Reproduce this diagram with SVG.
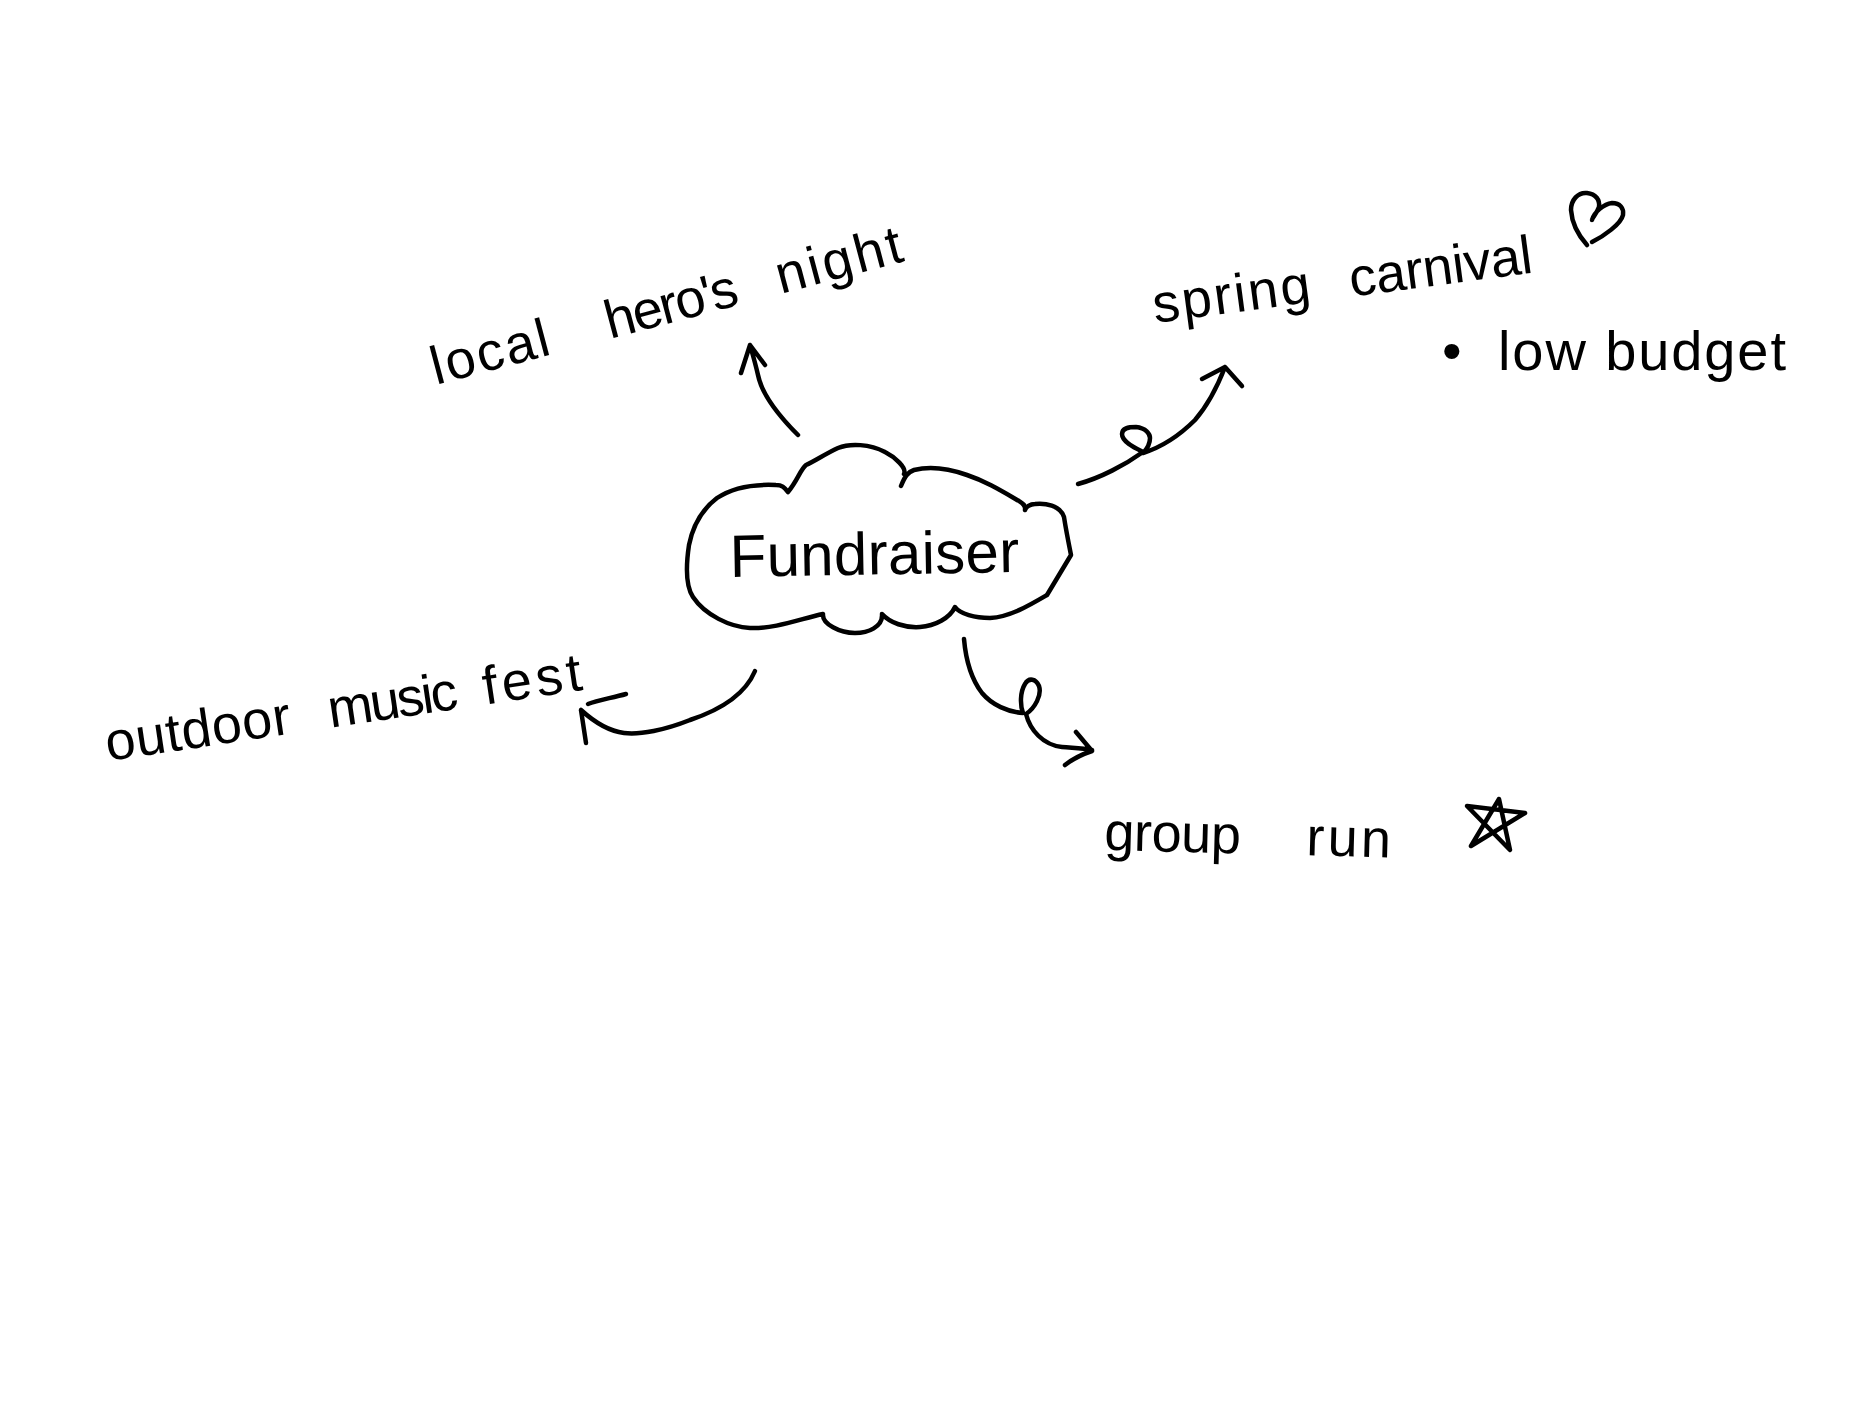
<svg xmlns="http://www.w3.org/2000/svg" width="1872" height="1404" viewBox="0 0 1872 1404">
<style>
.s{fill:none;stroke:#000;stroke-width:4.5;stroke-linecap:round;stroke-linejoin:round}
text{font-family:"Liberation Sans",Arial,sans-serif;font-size:54px;fill:#000}
</style>
<rect width="1872" height="1404" fill="#fff"/>
<g id="connectors">
<path class="s" d="M798,435 C778,415 762,395 758,375 C755,362 752,352 750,345 M741,373 L750,345 L765,365"/>
<path class="s" d="M1078,484 C1100,478 1125,465 1143,452 C1135,448 1122,442 1122,434 C1122,428 1128,427 1136,427 C1146,428 1150,434 1150,438 C1150,444 1146,450 1143,453 C1165,446 1182,433 1195,420 C1208,405 1218,385 1225,367 M1202,379 L1225,367 L1242,386"/>
<path class="s" d="M755,671 C745,695 720,710 690,720 C665,730 640,735 624,733 C608,731 592,720 581,710 M626,694 C612,698 598,700 588,704 M586,743 L581,710"/>
<path class="s" d="M964,639 C966,662 972,680 982,693 C992,705 1008,712 1023,713 C1020,705 1020,692 1025,684 C1029,677 1036,679 1039,686 C1042,695 1035,708 1026,714 C1030,730 1043,745 1062,747 C1072,748 1082,748 1092,750 M1076,732 L1092,751 C1083,754 1074,758 1065,765"/>
</g>
<g id="node-fundraiser">
<path class="s" d="M788,492 C784,487 782,485 776,485 C755,484 735,486 717,498 C700,511 692,530 689,545 C686,565 685,585 693,597 C705,615 730,627 750,628 C775,629 800,619 823,614 C822,624 840,633 855,633 C868,633 883,627 882,614 C890,623 905,628 920,627 C935,626 950,618 955,607 C960,614 975,618 990,618 C1010,617 1030,605 1047,595 L1071,555 C1068,540 1066,530 1064,517 C1060,505 1045,503 1035,504 C1030,504 1026,507 1025,510 C1026,505 1022,503 1019,501 C1000,490 985,481 967,475 C950,469 930,466 914,470 C908,472 905,476 901,486 M904,474 C907,468 895,457 885,452 C870,444 850,443 838,448 C825,454 815,461 806,465 C800,470 798,480 788,492"/>
<text transform="translate(730,577) rotate(-1)" style="font-size:60px" letter-spacing="0.3">Fundraiser</text>
</g>
<g id="node-local-heros-night">
<text transform="translate(436,385) rotate(-14.8)"><tspan letter-spacing="2.4">local </tspan><tspan dx="39.6" letter-spacing="-2">hero's </tspan><tspan dx="30" letter-spacing="3">night</tspan></text>
</g>
<g id="node-spring-carnival">
<text transform="translate(1155,323) rotate(-7.6)"><tspan letter-spacing="2.3">spring </tspan><tspan dx="20" letter-spacing="-0.25">carnival</tspan></text>
<path class="s" d="M1587,245 C1578,235 1572,225 1571,210 C1571,200 1578,192 1587,193 C1596,194 1600,200 1599,207 C1597,213 1592,218 1592,220 C1594,212 1604,204 1612,203 C1620,203 1624,208 1623,215 C1621,224 1604,236 1592,242"/>
<text y="370" style="font-size:56px"><tspan x="1442">•</tspan> <tspan x="1498" letter-spacing="1.9">low budget</tspan></text>
</g>
<g id="node-outdoor-music-fest">
<text transform="translate(108,761) rotate(-8.5)"><tspan letter-spacing="0.6">outdoor </tspan><tspan dx="22" letter-spacing="-2.6">music </tspan><tspan dx="16" letter-spacing="4.25">fest</tspan></text>
</g>
<g id="node-group-run">
<text transform="translate(1104,850) rotate(1.5)"><tspan letter-spacing="-0.4">group </tspan><tspan dx="51.4" letter-spacing="3.2">run</tspan></text>
<path class="s" d="M1467,806 L1510,850 L1499,799 L1471,846 L1525,813 Z"/>
</g>
</svg>
